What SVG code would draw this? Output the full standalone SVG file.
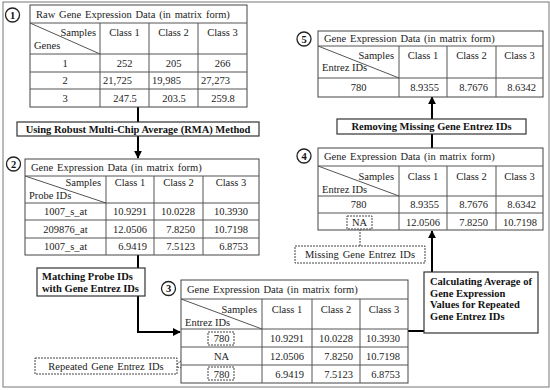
<svg xmlns="http://www.w3.org/2000/svg" width="550" height="390" viewBox="0 0 550 390">
<defs>
<style>
.t{font-family:"Liberation Serif","Times New Roman",serif;font-size:10.5px;fill:#222}
.b{font-weight:bold;fill:#111}
.m{text-anchor:middle}
.e{text-anchor:end}
.w{word-spacing:1.2px}
.g{fill:#fff;stroke:#444;stroke-width:1}
.l{stroke:#555;stroke-width:1;fill:none}
.c{stroke:#000;stroke-width:2;fill:none}
.box{fill:#fff;stroke:#333;stroke-width:1.2}
.dot{fill:none;stroke:#444;stroke-width:1;stroke-dasharray:2 1}
.num{fill:#fff;stroke:#222;stroke-width:1.3}
</style>
<marker id="ah" viewBox="0 0 10 10" refX="9" refY="5" markerWidth="4" markerHeight="4" orient="auto" markerUnits="strokeWidth">
<path d="M0,0 L10,5 L0,10 z" fill="#000"/>
</marker>
</defs>
<rect x="3" y="2" width="546" height="385" fill="#fff" stroke="#777" stroke-width="1"/>

<g id="connectors">
<line class="c" x1="138" y1="107" x2="138" y2="122"/>
<line class="c" x1="138" y1="136" x2="138" y2="158" marker-end="url(#ah)"/>
<line class="c" x1="138" y1="255" x2="138" y2="268"/>
<polyline class="c" points="138,296 138,332 180,332" marker-end="url(#ah)"/>
<polyline class="c" points="408,331 432,331 432,333"/>
<line class="c" x1="432" y1="272" x2="432" y2="231" marker-end="url(#ah)"/>
<line class="c" x1="432" y1="148" x2="432" y2="134"/>
<line class="c" x1="432" y1="119" x2="432" y2="97" marker-end="url(#ah)"/>
<line class="dot" x1="360" y1="229" x2="360" y2="246"/>
<line class="dot" x1="177" y1="364" x2="208" y2="341"/>
<line class="dot" x1="177" y1="367" x2="208" y2="373"/>
</g>

<g id="n1">
<circle class="num" cx="12.5" cy="15" r="7"/>
<text class="t b m" x="12.5" y="18.5" font-size="10">1</text>
</g>
<g id="table1">
<rect class="g" x="30" y="5" width="217" height="102"/>
<path class="l" d="M30,23H247M30,54H247M30,72H247M30,89H247M100,23V107M149,23V107M198,23V107M30,23L100,54"/>
<text class="t w" x="36" y="17.5">Raw Gene Expression Data (in matrix form)</text>
<text class="t e" x="96" y="36">Samples</text>
<text class="t" x="34" y="49">Genes</text>
<text class="t m" x="124.5" y="36">Class 1</text>
<text class="t m" x="173.5" y="36">Class 2</text>
<text class="t m" x="222.5" y="36">Class 3</text>
<text class="t m" x="65" y="66.5">1</text>
<text class="t m" x="65" y="84">2</text>
<text class="t m" x="65" y="101.5">3</text>
<text class="t m" x="124.5" y="66.5">252</text>
<text class="t m" x="173.5" y="66.5">205</text>
<text class="t m" x="222.5" y="66.5">266</text>
<text class="t" x="103" y="84">21,725</text>
<text class="t" x="152" y="84">19,985</text>
<text class="t" x="201" y="84">27,273</text>
<text class="t m" x="125" y="101.5">247.5</text>
<text class="t m" x="174" y="101.5">203.5</text>
<text class="t m" x="223" y="101.5">259.8</text>
</g>

<g id="rma">
<rect class="box" x="17" y="122" width="242" height="14"/>
<text class="t b m" x="138" y="132.5">Using Robust Multi-Chip Average (RMA) Method</text>
</g>

<g id="n2">
<circle class="num" cx="13.5" cy="164" r="7"/>
<text class="t b m" x="13.5" y="167.5" font-size="10">2</text>
</g>
<g id="table2">
<rect class="g" x="25" y="159" width="234" height="96"/>
<path class="l" d="M25,176H259M25,203H259M25,220H259M25,238H259M106,176V255M154,176V255M203,176V255M25,176L106,203"/>
<text class="t w" x="31" y="171">Gene Expression Data (in matrix form)</text>
<text class="t e" x="101" y="186">Samples</text>
<text class="t" x="29" y="199">Probe IDs</text>
<text class="t m" x="130" y="186">Class 1</text>
<text class="t m" x="178.5" y="186">Class 2</text>
<text class="t m" x="231" y="186">Class 3</text>
<text class="t m" x="65.5" y="215">1007_s_at</text>
<text class="t m" x="65.5" y="232.5">209876_at</text>
<text class="t m" x="65.5" y="250">1007_s_at</text>
<text class="t e" x="147" y="215">10.9291</text>
<text class="t e" x="195" y="215">10.0228</text>
<text class="t e" x="248" y="215">10.3930</text>
<text class="t e" x="147" y="232.5">12.0506</text>
<text class="t e" x="195" y="232.5">7.8250</text>
<text class="t e" x="248" y="232.5">10.7198</text>
<text class="t e" x="147" y="250">6.9419</text>
<text class="t e" x="195" y="250">7.5123</text>
<text class="t e" x="248" y="250">6.8753</text>
</g>

<g id="matching">
<rect class="box" x="37" y="268" width="108" height="28"/>
<text class="t b" x="42" y="280">Matching Probe IDs</text>
<text class="t b" x="42" y="292">with Gene Entrez IDs</text>
</g>

<g id="n3">
<circle class="num" cx="168.5" cy="288.5" r="7"/>
<text class="t b m" x="168.5" y="292" font-size="10">3</text>
</g>
<g id="table3">
<rect class="g" x="181" y="280" width="227" height="103"/>
<path class="l" d="M181,299H408M181,329H408M181,347H408M181,365H408M262,299V383M312,299V383M360,299V383M181,299L262,329"/>
<text class="t w" x="187" y="293">Gene Expression Data (in matrix form)</text>
<text class="t e" x="257" y="312.5">Samples</text>
<text class="t" x="185" y="325.5">Entrez IDs</text>
<text class="t m" x="287" y="312.5">Class 1</text>
<text class="t m" x="336" y="312.5">Class 2</text>
<text class="t m" x="384" y="312.5">Class 3</text>
<rect class="dot" x="208" y="332" width="26" height="13"/>
<text class="t m" x="221.5" y="341.5">780</text>
<text class="t m" x="221.5" y="359.5">NA</text>
<rect class="dot" x="208" y="367" width="26" height="13"/>
<text class="t m" x="221.5" y="377.5">780</text>
<text class="t e" x="304" y="341.5">10.9291</text>
<text class="t e" x="353" y="341.5">10.0228</text>
<text class="t e" x="400" y="341.5">10.3930</text>
<text class="t e" x="304" y="359.5">12.0506</text>
<text class="t e" x="353" y="359.5">7.8250</text>
<text class="t e" x="400" y="359.5">10.7198</text>
<text class="t e" x="304" y="377.5">6.9419</text>
<text class="t e" x="353" y="377.5">7.5123</text>
<text class="t e" x="400" y="377.5">6.8753</text>
</g>

<g id="repeated">
<rect class="dot" x="35" y="358" width="142" height="16"/>
<text class="t m w" x="106" y="369.5">Repeated Gene Entrez IDs</text>
</g>

<g id="calculating">
<rect class="box" x="424" y="272" width="114" height="61"/>
<text class="t b" x="430" y="284.5">Calculating Average of</text>
<text class="t b" x="430" y="296.5">Gene Expression</text>
<text class="t b" x="430" y="308">Values for Repeated</text>
<text class="t b" x="430" y="319.5">Gene Entrez IDs</text>
</g>

<g id="n4">
<circle class="num" cx="304" cy="156" r="7"/>
<text class="t b m" x="304" y="159.5" font-size="10">4</text>
</g>
<g id="table4">
<rect class="g" x="318" y="148" width="225" height="82"/>
<path class="l" d="M318,166H543M318,196H543M318,213H543M399,166V230M447,166V230M496,166V230M318,166L399,196"/>
<text class="t w" x="324" y="160">Gene Expression Data (in matrix form)</text>
<text class="t e" x="394" y="180">Samples</text>
<text class="t" x="322" y="193">Entrez IDs</text>
<text class="t m" x="423" y="180">Class 1</text>
<text class="t m" x="471.5" y="180">Class 2</text>
<text class="t m" x="519.5" y="180">Class 3</text>
<text class="t m" x="358.5" y="208">780</text>
<rect class="dot" x="347" y="216" width="25" height="13"/>
<text class="t m" x="359.5" y="225.5">NA</text>
<text class="t e" x="439" y="208">8.9355</text>
<text class="t e" x="488" y="208">8.7676</text>
<text class="t e" x="536" y="208">8.6342</text>
<text class="t e" x="440" y="225.5">12.0506</text>
<text class="t e" x="488" y="225.5">7.8250</text>
<text class="t e" x="537" y="225.5">10.7198</text>
</g>

<g id="missing">
<rect class="dot" x="295" y="246" width="130" height="17"/>
<text class="t m w" x="360" y="258">Missing Gene Entrez IDs</text>
</g>

<g id="removing">
<rect class="box" x="337" y="119" width="189" height="15"/>
<text class="t b m" x="431.5" y="130">Removing Missing Gene Entrez IDs</text>
</g>

<g id="n5">
<circle class="num" cx="304" cy="39" r="7"/>
<text class="t b m" x="304" y="42.5" font-size="10">5</text>
</g>
<g id="table5">
<rect class="g" x="318" y="31" width="225" height="66"/>
<path class="l" d="M318,46H543M318,78H543M399,46V97M447,46V97M496,46V97M318,46L399,78"/>
<text class="t w" x="324" y="42">Gene Expression Data (in matrix form)</text>
<text class="t e" x="394" y="58.5">Samples</text>
<text class="t" x="322" y="71">Entrez IDs</text>
<text class="t m" x="423" y="58.5">Class 1</text>
<text class="t m" x="471.5" y="58.5">Class 2</text>
<text class="t m" x="519.5" y="58.5">Class 3</text>
<text class="t m" x="358.5" y="91">780</text>
<text class="t e" x="439" y="91">8.9355</text>
<text class="t e" x="488" y="91">8.7676</text>
<text class="t e" x="536" y="91">8.6342</text>
</g>
</svg>
